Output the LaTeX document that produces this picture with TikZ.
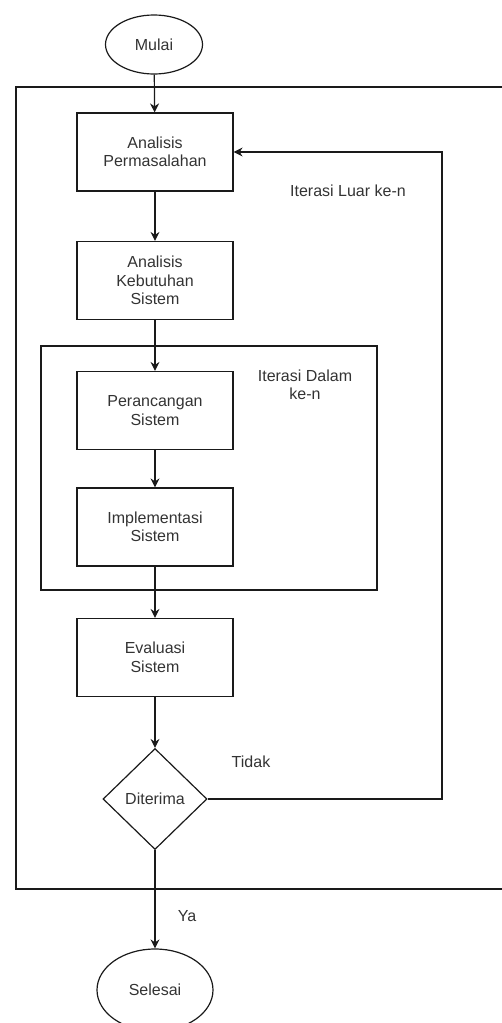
\documentclass[tikz,border=0pt]{standalone}
\usepackage{fontspec}
\setmainfont{Liberation Sans}
\usetikzlibrary{shapes.geometric,arrows.meta}
\definecolor{ink}{HTML}{1A1A1A}
\definecolor{txt}{HTML}{333333}
\begin{document}
\begin{tikzpicture}[x=1pt,y=-1pt,
  every node/.style={text=txt,font=\fontsize{16}{18.5}\selectfont,align=center},
  stepbox/.style={draw=ink,line width=1.2pt,minimum width=156pt,minimum height=78pt,inner sep=0pt},
  terminal/.style={draw=ink,line width=1.2pt,ellipse,inner sep=0pt},
  decision/.style={draw=ink,line width=1.2pt,diamond,minimum width=104pt,minimum height=101pt,inner sep=0pt},
  frame/.style={draw=ink,line width=1.2pt},
  flow/.style={draw=ink,line width=1.2pt,-{Stealth[length=9pt,width=9pt]}},
  note/.style={text=txt}]
\useasboundingbox (0,0) rectangle (502,1023);

% iteration frames
\draw[frame] (502,87) -- (16,87) -- (16,889) -- (502,889);
\draw[frame] (41,346) rectangle (377,590);

% flow nodes
\node[terminal,minimum width=97pt,minimum height=59pt] (mulai) at (154,44.5) {Mulai};
\node[stepbox] (analisis) at (155,152) {Analisis\\Permasalahan};
\node[stepbox] (kebutuhan) at (155,280.5) {Analisis\\Kebutuhan\\Sistem};
\node[stepbox] (perancangan) at (155,410.5) {Perancangan\\Sistem};
\node[stepbox] (implementasi) at (155,527) {Implementasi\\Sistem};
\node[stepbox] (evaluasi) at (155,657.5) {Evaluasi\\Sistem};
\node[decision] (diterima) at (155,799) {Diterima};
\node[terminal,minimum width=116pt,minimum height=82pt] (selesai) at (155,990) {Selesai};
\coordinate (loop) at (442,799);

% labels
\node[note] (luar) at (348,191) {Iterasi Luar ke-n};
\node[note] (dalam) at (305,385) {Iterasi Dalam\\ke-n};
\node[note] (tidak) at (251,762) {Tidak};
\node[note] (ya) at (187,916) {Ya};

% connectors
\draw[flow] (mulai) -- (analisis);
\draw[flow] (analisis) -- (kebutuhan);
\draw[flow] (kebutuhan) -- (perancangan);
\draw[flow] (perancangan) -- (implementasi);
\draw[flow] (implementasi) -- (evaluasi);
\draw[flow] (evaluasi) -- (diterima);
\draw[flow] (diterima) -- (selesai);
\draw[flow] (diterima.east) -- (loop) |- (analisis.east);
\end{tikzpicture}
\end{document}
